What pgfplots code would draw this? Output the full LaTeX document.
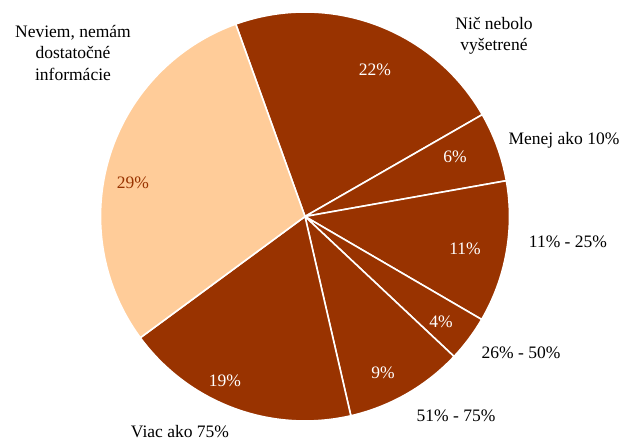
\documentclass[border=0pt]{standalone}
\usepackage{fontspec}
\setmainfont{Liberation Serif}
\usepackage{pgfplots}
\usepackage{pgfplotstable}
\pgfplotsset{compat=1.18}

\definecolor{slicedark}{HTML}{993300}
\definecolor{slicelight}{HTML}{FFCC99}

% shares in percent, clockwise from the top
\pgfplotstableread{
value color
22.2  slicedark
5.5   slicedark
11.2  slicedark
3.6   slicedark
9.4   slicedark
18.5  slicedark
29.6  slicelight
}\piedata

\begin{document}
\begin{tikzpicture}[font=\fontsize{17.5}{21.5}\selectfont]
\begin{axis}[
    hide axis,
    x=1pt, y=1pt,
    xmin=0, xmax=625,
    ymin=0, ymax=441,
    enlargelimits=false,
    clip=false,
    anchor=origin,
    at={(0,0)},
]
\pgfplotstablegetrowsof{\piedata}
\pgfmathtruncatemacro{\last}{\pgfplotsretval-1}
\def\cur{109.8}
\pgfplotsforeachungrouped \i in {0,...,\last}{%
    \pgfplotstablegetelem{\i}{value}\of{\piedata}\let\v\pgfplotsretval
    \pgfplotstablegetelem{\i}{color}\of{\piedata}\let\c\pgfplotsretval
    \pgfmathsetmacro{\nxt}{\cur-3.6*\v}
    \edef\temp{\noexpand\fill[\c, draw=white, line width=1.6pt, line join=round]
        (axis cs:305,224.5) -- ++(\cur:204.5pt)
        arc[start angle=\cur, end angle=\nxt, radius=204.5pt] -- cycle;}
    \temp
    \global\let\cur\nxt
}
% values on the slices
\node[white] at (axis cs:375,371) {22\%};
\node[white] at (axis cs:455,284) {6\%};
\node[white] at (axis cs:465,192) {11\%};
\node[white] at (axis cs:441,119) {4\%};
\node[white] at (axis cs:383,68) {9\%};
\node[white] at (axis cs:225,60) {19\%};
\node[slicedark] at (axis cs:133,258) {29\%};
% category names
\node[align=center] at (axis cs:73,388) {Neviem, nemám\\dostatočné\\informácie};
\node[align=center] at (axis cs:494,405) {Nič nebolo\\vyšetrené};
\node at (axis cs:564,301) {Menej ako 10\%};
\node at (axis cs:568,199) {11\% - 25\%};
\node at (axis cs:521,88) {26\% - 50\%};
\node at (axis cs:456,25) {51\% - 75\%};
\node at (axis cs:180,9) {Viac ako 75\%};
\end{axis}
\pgfresetboundingbox
\useasboundingbox (0,0) rectangle (625pt,441pt);
\end{tikzpicture}
\end{document}
